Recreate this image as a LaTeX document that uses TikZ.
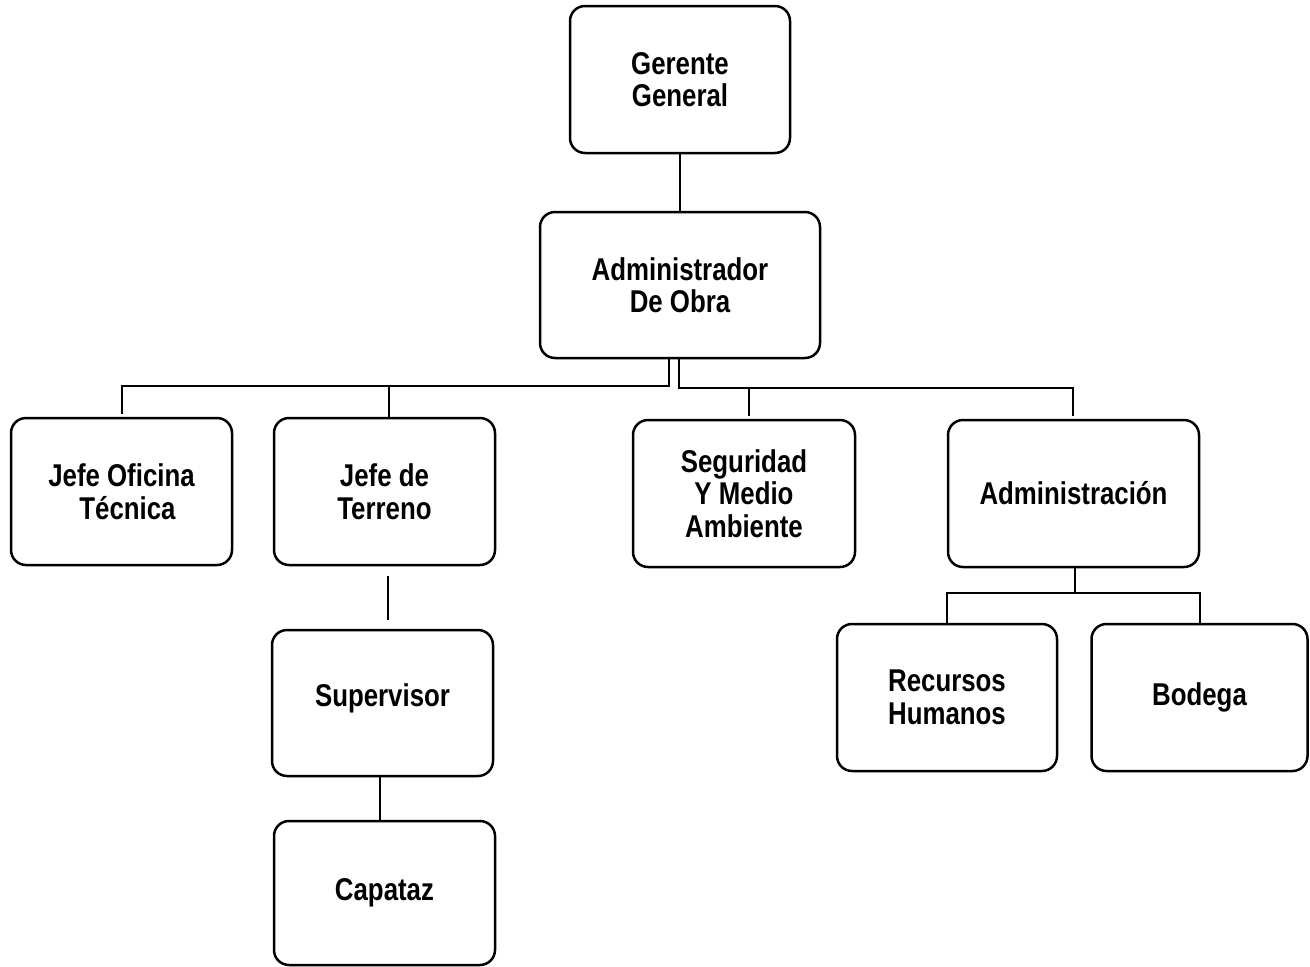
\documentclass[tikz,border=0pt]{standalone}
\usepackage{fontspec}
\setmainfont{Liberation Sans}[FakeStretch=0.82]
\begin{document}
\begin{tikzpicture}[x=1pt,y=-1pt,
  box/.style={draw, line width=2.5pt, rounded corners=15pt, align=center,
    font=\fontsize{31.5}{32.5}\selectfont\bfseries, inner sep=0pt},
  link/.style={line width=2pt}]
\useasboundingbox (0,0) rectangle (1310,967);
\fill[white] (0,0) rectangle (1310,967);
\node[box, minimum width=220pt, minimum height=147pt] (gg) at (680,79.5) {Gerente\\General};
\node[box, minimum width=280pt, minimum height=146pt] (ado) at (680,285) {Administrador\\De Obra};
\node[box, minimum width=221pt, minimum height=147pt] (jot) at (121.5,491.5) {Jefe Oficina\\\hspace*{12pt}Técnica};
\node[box, minimum width=221pt, minimum height=147pt] (jdt) at (384.5,491.5) {Jefe de\\Terreno};
\node[box, minimum width=222pt, minimum height=147pt] (sma) at (744,493.5) {Seguridad\\Y Medio\\Ambiente};
\node[box, minimum width=251pt, minimum height=147pt] (adm) at (1073.5,493.5) {Administración};
\node[box, minimum width=220pt, minimum height=147pt] (rh) at (947,697.5) {Recursos\\Humanos};
\node[box, minimum width=216pt, minimum height=147pt] (bod) at (1199.5,697.5) {Bodega};
\node[box, minimum width=221pt, minimum height=146pt] (sup) at (382.5,703) {\raisebox{-3pt}[0pt][0pt]{Supervisor}};
\node[box, minimum width=221pt, minimum height=144pt] (cap) at (384.5,893) {Capataz};
\coordinate (b1) at (669,386);
\coordinate (b2) at (679,388);
\coordinate (b3) at (1075,593);
\draw[link] (gg.south) -- (ado.north);
\draw[link] (ado.south -| b1) -- (b1) -| ([yshift=3pt]jot.north);
\draw[link] (b1) -| ([xshift=4.5pt]jdt.north);
\draw[link] (ado.south -| b2) -- (b2) -| ([xshift=-1pt,yshift=3pt]adm.north);
\draw[link] (b2 -| sma.north) ++(5,0) -- ([xshift=5pt,yshift=3pt]sma.north);
\draw[link] (adm.south -| b3) -- (b3);
\draw[link] (rh.north) |- (b3) -| (bod.north);
\draw[link, line width=1.5pt] ([xshift=3.5pt,yshift=-10pt]jdt.south) -- ([xshift=5.5pt,yshift=9pt]sup.north);
\draw[link] ([xshift=-2.5pt]sup.south) -- ([xshift=-2.5pt]sup.south |- cap.north);
\end{tikzpicture}
\end{document}
